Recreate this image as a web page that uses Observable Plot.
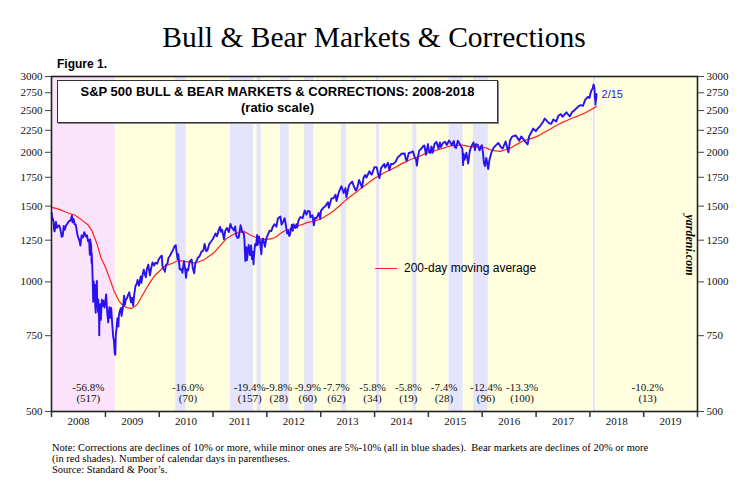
<!DOCTYPE html>
<html>
<head>
<meta charset="utf-8">
<script src="https://cdn.jsdelivr.net/npm/d3@7"></script>
<script src="https://cdn.jsdelivr.net/npm/@observablehq/plot@0.6"></script>
<style>
  html, body { margin: 0; padding: 0; background: #fff; }
  #page { position: relative; width: 748px; height: 483px; overflow: hidden; }
  #head { position: relative; height: 62px; }
  #title { position: absolute; top: 20px; left: 0; width: 748px; text-align: center;
           font-family: "Liberation Serif", "DejaVu Serif", serif; font-size: 29.5px; line-height: 34px; color: #000; }
  #fig { position: absolute; left: 57px; top: 57px; font-family: "Liberation Sans", Arial, sans-serif;
         font-weight: bold; font-size: 12px; line-height: 14px; }
  #chart { position: relative; height: 373px; }
  #box { position: absolute; left: 57px; top: 18px; width: 439px; height: 38px; background: #fff;
         border: 1px solid #333; box-shadow: 1px 1px 0 #888; text-align: center;
         font-family: "Liberation Sans", Arial, sans-serif; font-weight: bold; font-size: 13px; line-height: 16px; padding-top: 3px; box-sizing: content-box; }
  #legend { position: absolute; left: 375px; top: 198px; font-family: "Liberation Sans", Arial, sans-serif; font-size: 12px; line-height: 16px; }
  #legend span.sw { display: inline-block; width: 22px; height: 0; border-top: 1.3px solid #ff2020; vertical-align: middle; margin-right: 7px; }
  #yard { position: absolute; left: 689px; top: 183px; transform: translate(-50%, -50%) rotate(90deg);
          font-family: "Liberation Serif", serif; font-style: italic; font-weight: bold; font-size: 12px; white-space: nowrap; }
  #note { padding-left: 52px; padding-top: 7px; font-family: "Liberation Serif", "DejaVu Serif", serif; font-size: 10.5px; line-height: 11px; }
</style>
</head>
<body>
<div id="page">
  <div id="head">
    <div id="title">Bull &amp; Bear Markets &amp; Corrections</div>
    <div id="fig">Figure 1.</div>
  </div>
  <div id="chart">
    <div id="box">S&amp;P 500 BULL &amp; BEAR MARKETS &amp; CORRECTIONS: 2008-2018<br>(ratio scale)</div>
    <div id="legend"><span class="sw"></span>200-day moving average</div>
    <div id="yard">yardeni.com</div>
  </div>
  <div id="note">Note: Corrections are declines of 10% or more, while minor ones are 5%-10% (all in blue shades).&nbsp; Bear markets are declines of 20% or more<br>(in red shades). Number of calendar days in parentheses.<br>Source: Standard &amp; Poor’s.</div>
</div>
<script>
// ---------------- DATA ----------------
const yTicks = [500, 750, 1000, 1250, 1500, 1750, 2000, 2250, 2500, 2750, 3000];
const yearLabels = [2008, 2009, 2010, 2011, 2012, 2013, 2014, 2015, 2016, 2017, 2018, 2019];

const bearStart = ["2007-10-09"];
const bearEnd   = ["2009-03-09"];
const bearPct   = ["-56.8%"];
const bearDays  = ["(517)"];
const bearLabelDate = ["2008-09-07"];

const corrStart = ["2010-04-23","2011-04-29","2011-10-27","2012-04-02","2012-09-14","2013-05-21","2014-01-15","2014-09-18","2015-05-21","2015-11-03","2018-01-26"];
const corrEnd   = ["2010-07-02","2011-10-03","2011-11-25","2012-06-01","2012-11-15","2013-06-24","2014-02-03","2014-10-15","2015-08-25","2016-02-11","2018-02-08"];
const corrPct   = ["-16.0%","-19.4%","-9.8%","-9.9%","-7.7%","-5.8%","-5.8%","-7.4%","-12.4%","-13.3%","-10.2%"];
const corrDays  = ["(70)","(157)","(28)","(60)","(62)","(34)","(19)","(28)","(96)","(100)","(13)"];
const corrLabelDate = ["2010-07-15","2011-09-07","2012-03-22","2012-10-04","2013-04-17","2013-12-18","2014-08-18","2015-04-17","2016-01-27","2016-09-28","2019-01-27"];

const spx = [
["2008-01-02",1447],["2008-01-08",1390],["2008-01-11",1401],["2008-01-15",1380],["2008-01-18",1325],["2008-01-22",1310],["2008-01-25",1330],["2008-01-31",1378],
["2008-02-07",1336],["2008-02-14",1348],["2008-02-22",1353],["2008-02-29",1330],["2008-03-07",1293],["2008-03-10",1273],["2008-03-14",1288],["2008-03-17",1276],
["2008-03-24",1349],["2008-03-31",1322],["2008-04-09",1354],["2008-04-16",1364],["2008-04-23",1375],["2008-04-30",1385],["2008-05-09",1388],["2008-05-19",1426],
["2008-05-23",1375],["2008-05-30",1400],["2008-06-06",1360],["2008-06-13",1360],["2008-06-20",1317],["2008-06-27",1278],["2008-07-03",1262],["2008-07-09",1244],
["2008-07-15",1214],["2008-07-23",1282],["2008-07-31",1267],["2008-08-08",1296],["2008-08-11",1305],["2008-08-20",1275],["2008-08-29",1283],["2008-09-05",1242],
["2008-09-12",1252],["2008-09-15",1192],["2008-09-17",1156],["2008-09-19",1255],["2008-09-26",1213],["2008-09-29",1106],["2008-09-30",1166],["2008-10-03",1099],
["2008-10-07",996],["2008-10-10",899],["2008-10-13",1003],["2008-10-15",908],["2008-10-20",985],["2008-10-24",877],["2008-10-27",848],["2008-10-28",941],
["2008-11-04",1005],["2008-11-06",905],["2008-11-12",852],["2008-11-13",911],["2008-11-19",806],["2008-11-20",752],["2008-11-21",800],["2008-11-26",887],
["2008-12-01",816],["2008-12-05",876],["2008-12-08",909],["2008-12-12",879],["2008-12-17",904],["2008-12-26",872],["2008-12-31",903],
["2009-01-06",935],["2009-01-09",890],["2009-01-14",842],["2009-01-20",805],["2009-01-23",832],["2009-01-28",874],["2009-02-02",825],["2009-02-09",870],
["2009-02-17",790],["2009-02-23",743],["2009-02-27",735],["2009-03-05",682],["2009-03-09",677],["2009-03-12",750],["2009-03-17",778],["2009-03-23",823],
["2009-03-30",788],["2009-04-02",835],["2009-04-09",857],["2009-04-17",870],["2009-04-20",833],["2009-04-30",873],["2009-05-08",929],["2009-05-13",884],
["2009-05-19",908],["2009-05-29",919],["2009-06-03",932],["2009-06-12",946],["2009-06-23",896],["2009-06-30",919],["2009-07-08",880],["2009-07-15",933],
["2009-07-24",979],["2009-07-31",987],["2009-08-07",1010],["2009-08-17",980],["2009-08-28",1029],["2009-09-02",995],["2009-09-11",1042],["2009-09-18",1068],
["2009-09-25",1044],["2009-10-02",1025],["2009-10-09",1071],["2009-10-19",1097],["2009-10-30",1036],["2009-11-06",1069],["2009-11-16",1110],["2009-11-27",1091],
["2009-12-04",1106],["2009-12-11",1106],["2009-12-18",1102],["2009-12-28",1127],
["2010-01-11",1146],["2010-01-19",1150],["2010-01-22",1092],["2010-01-29",1073],["2010-02-05",1066],["2010-02-08",1056],["2010-02-16",1095],["2010-02-26",1104],
["2010-03-05",1138],["2010-03-15",1150],["2010-03-24",1167],["2010-04-05",1187],["2010-04-15",1211],["2010-04-23",1217],["2010-04-27",1183],["2010-05-06",1128],
["2010-05-10",1159],["2010-05-20",1071],["2010-05-26",1068],["2010-06-01",1070],["2010-06-07",1050],["2010-06-18",1117],["2010-06-25",1076],["2010-07-02",1022],
["2010-07-08",1070],["2010-07-16",1064],["2010-07-26",1115],["2010-08-09",1127],["2010-08-16",1079],["2010-08-26",1047],["2010-09-03",1105],["2010-09-13",1122],
["2010-09-21",1139],["2010-10-01",1146],["2010-10-15",1176],["2010-10-27",1182],["2010-11-05",1225],["2010-11-16",1178],["2010-11-26",1189],["2010-12-06",1224],
["2010-12-15",1236],["2010-12-31",1258],
["2011-01-07",1271],["2011-01-18",1296],["2011-01-28",1276],["2011-02-09",1321],["2011-02-18",1343],["2011-02-24",1307],["2011-03-04",1321],["2011-03-16",1256],
["2011-03-25",1314],["2011-04-06",1335],["2011-04-18",1305],["2011-04-29",1364],["2011-05-06",1340],["2011-05-23",1317],["2011-05-31",1345],["2011-06-07",1285],
["2011-06-15",1266],["2011-06-24",1268],["2011-07-07",1354],["2011-07-18",1305],["2011-07-28",1300],["2011-08-02",1254],["2011-08-04",1200],["2011-08-08",1119],
["2011-08-10",1121],["2011-08-15",1204],["2011-08-18",1141],["2011-08-19",1124],["2011-08-26",1177],["2011-08-31",1219],["2011-09-09",1154],["2011-09-16",1216],
["2011-09-22",1130],["2011-09-27",1175],["2011-10-03",1099],["2011-10-04",1124],["2011-10-10",1195],["2011-10-14",1225],["2011-10-20",1215],["2011-10-27",1285],
["2011-11-01",1219],["2011-11-08",1276],["2011-11-16",1237],["2011-11-25",1159],["2011-11-30",1247],["2011-12-07",1261],["2011-12-19",1206],["2011-12-29",1263],
["2012-01-10",1292],["2012-01-20",1315],["2012-01-31",1312],["2012-02-10",1342],["2012-02-21",1362],["2012-03-06",1343],["2012-03-16",1404],["2012-04-02",1419],
["2012-04-10",1358],["2012-04-20",1379],["2012-05-01",1406],["2012-05-09",1354],["2012-05-18",1295],["2012-05-25",1318],["2012-06-01",1278],["2012-06-05",1285],
["2012-06-19",1357],["2012-06-25",1314],["2012-06-29",1362],["2012-07-12",1334],["2012-07-20",1362],["2012-07-25",1338],["2012-08-03",1391],["2012-08-16",1415],
["2012-08-31",1406],["2012-09-06",1432],["2012-09-14",1466],["2012-09-26",1433],["2012-10-05",1461],["2012-10-18",1457],["2012-10-23",1413],["2012-11-06",1428],
["2012-11-15",1353],["2012-11-23",1409],["2012-12-04",1407],["2012-12-18",1446],["2012-12-28",1402],
["2013-01-02",1462],["2013-01-18",1486],["2013-01-31",1498],["2013-02-19",1531],["2013-02-25",1487],["2013-03-14",1563],["2013-03-27",1563],["2013-04-11",1593],
["2013-04-18",1541],["2013-05-03",1614],["2013-05-21",1669],["2013-05-31",1631],["2013-06-05",1608],["2013-06-18",1652],["2013-06-24",1573],["2013-07-11",1675],
["2013-07-22",1695],["2013-08-02",1710],["2013-08-15",1661],["2013-08-27",1631],["2013-09-06",1655],["2013-09-18",1726],["2013-10-08",1656],["2013-10-18",1745],
["2013-10-29",1772],["2013-11-07",1748],["2013-11-27",1807],["2013-12-05",1785],["2013-12-13",1775],["2013-12-31",1848],
["2014-01-15",1848],["2014-01-24",1790],["2014-02-03",1742],["2014-02-14",1838],["2014-03-07",1878],["2014-03-14",1841],["2014-04-02",1891],["2014-04-11",1816],
["2014-04-22",1879],["2014-05-07",1878],["2014-05-23",1900],["2014-06-09",1951],["2014-06-20",1963],["2014-07-03",1985],["2014-07-24",1988],["2014-07-31",1931],
["2014-08-07",1910],["2014-08-21",1993],["2014-09-04",1998],["2014-09-18",2011],["2014-10-01",1946],["2014-10-09",1928],["2014-10-15",1862],["2014-10-24",1964],
["2014-10-31",2018],["2014-11-14",2039],["2014-11-28",2068],["2014-12-05",2075],["2014-12-16",1973],["2014-12-29",2090],
["2015-01-06",2003],["2015-01-15",1993],["2015-01-22",2063],["2015-01-30",1995],["2015-02-13",2097],["2015-02-25",2115],["2015-03-11",2040],["2015-03-20",2108],
["2015-03-26",2056],["2015-04-10",2102],["2015-04-24",2117],["2015-05-06",2080],["2015-05-21",2131],["2015-06-09",2080],["2015-06-23",2124],["2015-06-29",2057],
["2015-07-08",2047],["2015-07-20",2129],["2015-08-07",2078],["2015-08-20",2035],["2015-08-24",1893],["2015-08-25",1868],["2015-08-27",1988],["2015-09-04",1921],
["2015-09-16",1996],["2015-09-28",1882],["2015-10-09",2015],["2015-10-23",2075],["2015-11-03",2109],["2015-11-13",2023],["2015-11-20",2089],["2015-12-02",2080],
["2015-12-14",2021],["2015-12-29",2078],
["2016-01-05",2016],["2016-01-13",1890],["2016-01-20",1859],["2016-01-29",1940],["2016-02-11",1829],["2016-02-19",1918],["2016-03-04",1999],["2016-03-18",2049],
["2016-04-01",2073],["2016-04-20",2102],["2016-05-06",2057],["2016-05-19",2040],["2016-06-08",2119],["2016-06-27",2000],["2016-07-08",2130],["2016-07-22",2175],
["2016-08-15",2190],["2016-09-09",2128],["2016-09-22",2177],["2016-10-13",2132],["2016-11-04",2085],["2016-11-15",2180],["2016-12-13",2271],["2016-12-30",2239],
["2017-01-13",2275],["2017-01-26",2296],["2017-02-15",2349],["2017-03-01",2396],["2017-03-27",2342],["2017-04-13",2329],["2017-04-28",2384],["2017-05-17",2357],
["2017-06-01",2431],["2017-06-19",2453],["2017-06-29",2419],["2017-07-26",2477],["2017-08-10",2438],["2017-08-18",2425],["2017-09-01",2477],["2017-09-20",2508],
["2017-10-13",2553],["2017-10-31",2575],["2017-11-15",2564],["2017-11-30",2647],["2017-12-18",2690],["2017-12-29",2674],
["2018-01-05",2743],["2018-01-12",2786],["2018-01-19",2810],["2018-01-26",2873],["2018-02-01",2822],["2018-02-02",2762],["2018-02-05",2649],["2018-02-06",2695],
["2018-02-08",2581],["2018-02-09",2620],["2018-02-12",2656],["2018-02-14",2698],["2018-02-15",2731]
];

const ma200 = [
["2008-01-02",1490],["2008-02-01",1482],["2008-03-03",1470],["2008-04-01",1455],["2008-05-01",1442],["2008-06-02",1432],["2008-07-01",1412],["2008-08-01",1386],
["2008-09-02",1360],["2008-10-01",1315],["2008-11-03",1230],["2008-12-01",1140],["2009-01-02",1080],["2009-02-02",1010],["2009-03-02",950],["2009-04-01",905],
["2009-05-01",880],["2009-06-01",870],["2009-07-01",868],["2009-08-03",885],["2009-09-01",920],["2009-10-01",960],["2009-11-02",1000],["2009-12-01",1035],
["2010-01-04",1060],["2010-02-01",1085],["2010-03-01",1095],["2010-04-01",1105],["2010-05-03",1118],["2010-06-01",1120],["2010-07-01",1115],["2010-08-02",1110],
["2010-09-01",1105],["2010-10-01",1115],["2010-11-01",1125],["2010-12-01",1145],["2011-01-03",1165],["2011-02-01",1195],["2011-03-01",1225],["2011-04-01",1260],
["2011-05-02",1280],["2011-06-01",1295],["2011-07-01",1305],["2011-08-01",1310],["2011-09-01",1290],["2011-10-03",1275],["2011-11-01",1265],["2011-12-01",1255],
["2012-01-03",1255],["2012-02-01",1260],["2012-03-01",1270],["2012-04-02",1295],["2012-05-01",1315],["2012-06-01",1325],["2012-07-02",1340],["2012-08-01",1350],
["2012-09-04",1362],["2012-10-01",1375],["2012-11-01",1380],["2012-12-03",1390],["2013-01-02",1400],["2013-02-01",1420],["2013-03-01",1440],["2013-04-01",1465],
["2013-05-01",1495],["2013-06-03",1530],["2013-07-01",1560],["2013-08-01",1590],["2013-09-03",1620],["2013-10-01",1650],["2013-11-01",1680],["2013-12-02",1710],
["2014-01-02",1740],["2014-02-03",1765],["2014-03-03",1790],["2014-04-01",1810],["2014-05-01",1830],["2014-06-02",1855],["2014-07-01",1880],["2014-08-01",1900],
["2014-09-02",1925],["2014-10-01",1940],["2014-11-03",1960],["2014-12-01",1980],["2015-01-02",1995],["2015-02-02",2010],["2015-03-02",2025],["2015-04-01",2040],
["2015-05-01",2055],["2015-06-01",2070],["2015-07-01",2075],["2015-08-03",2080],["2015-09-01",2075],["2015-10-01",2065],["2015-11-02",2060],["2015-12-01",2060],
["2016-01-04",2055],["2016-02-01",2045],["2016-03-01",2025],["2016-04-01",2015],["2016-05-02",2010],["2016-06-01",2025],["2016-07-01",2035],["2016-08-01",2065],
["2016-09-01",2095],["2016-10-03",2125],["2016-11-01",2140],["2016-12-01",2155],["2017-01-03",2175],["2017-02-01",2200],["2017-03-01",2230],["2017-04-03",2260],
["2017-05-01",2290],["2017-06-01",2320],["2017-07-03",2350],["2017-08-01",2375],["2017-09-01",2400],["2017-10-02",2420],["2017-11-01",2445],["2017-12-01",2470],
["2018-01-02",2505],["2018-02-01",2540],["2018-02-15",2555]
];

// ---------------- BUILD ----------------
const parse = d3.utcParse("%Y-%m-%d");
const spxData = spx.map(([d, v]) => ({date: parse(d), value: v}));
const maData = ma200.map(([d, v]) => ({date: parse(d), value: v}));
const bears = bearStart.map((s, i) => ({start: parse(s), end: parse(bearEnd[i]), pct: bearPct[i], days: bearDays[i], label: parse(bearLabelDate[i])}));
const corrs = corrStart.map((s, i) => ({start: parse(s), end: parse(corrEnd[i]), pct: corrPct[i], days: corrDays[i], label: parse(corrLabelDate[i])}));
const annots = bears.concat(corrs);
const yearStarts = yearLabels.concat([yearLabels[yearLabels.length - 1] + 1]).map(y => new Date(Date.UTC(y, 0, 1)));
const yearMids = yearLabels.map(y => new Date(Date.UTC(y, 6, 2)));
const last = spxData[spxData.length - 1];

const serif = "Liberation Serif, DejaVu Serif, serif";
const blue = "#2a12ee";

const chart = Plot.plot({
  width: 748,
  height: 373,
  marginLeft: 51,
  marginRight: 51,
  marginTop: 14,
  marginBottom: 24,
  style: {fontFamily: serif, fontSize: "11px", color: "#111", background: "transparent", overflow: "visible"},
  x: {type: "utc", domain: [yearStarts[0], yearStarts[yearStarts.length - 1]]},
  y: {type: "log", domain: [500, 3000]},
  marks: [
    Plot.frame({fill: "#ffffe0", stroke: null}),
    Plot.rect(bears, {x1: "start", x2: "end", fill: "#fbe3fb", clip: true}),
    Plot.rect(corrs, {x1: "start", x2: "end", fill: "#e4e4fc", clip: true}),
    Plot.line(maData, {x: "date", y: "value", stroke: "#ff2020", strokeWidth: 1.2}),
    Plot.line(spxData, {x: "date", y: "value", stroke: blue, strokeWidth: 1.9, strokeLinejoin: "round"}),
    Plot.text([last], {x: "date", y: "value", text: d => d3.utcFormat("%-m/%-d")(d.date), dx: 5, textAnchor: "start", fill: blue,
      fontFamily: "Liberation Sans, Arial, sans-serif", fontSize: 11}),
    Plot.text(annots, {x: "label", text: "pct", frameAnchor: "bottom", dy: -21, fontFamily: serif, fontSize: 11}),
    Plot.text(annots, {x: "label", text: "days", frameAnchor: "bottom", dy: -10, fontFamily: serif, fontSize: 11}),
    Plot.frame({stroke: "#222", strokeWidth: 1.6}),
    Plot.axisY(yTicks, {anchor: "left", label: null, tickSize: 6, tickPadding: 3, tickFormat: d => String(d), stroke: "#444", fontSize: 11}),
    Plot.axisY(yTicks, {anchor: "right", label: null, tickSize: 6, tickPadding: 3, tickFormat: d => String(d), stroke: "#444", fontSize: 11}),
    Plot.axisX(yearStarts, {label: null, tickSize: 6, tickFormat: () => "", stroke: "#333", strokeWidth: 1.5}),
    Plot.axisX(yearMids, {label: null, tickSize: 0, tickPadding: 6, tickFormat: d3.utcFormat("%Y"), fontSize: 11})
  ]
});
document.getElementById("chart").prepend(chart);
</script>
</body>
</html>
